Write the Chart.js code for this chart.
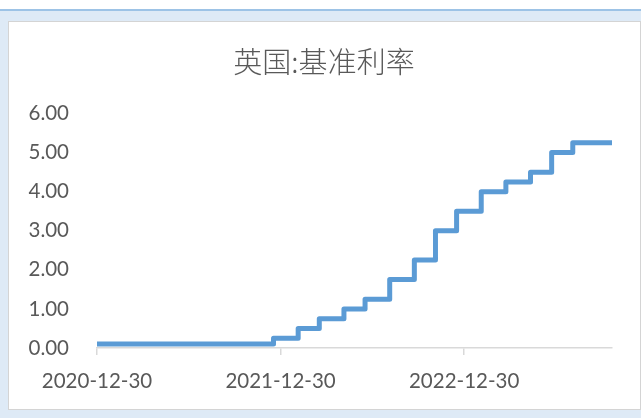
<!DOCTYPE html>
<html>
<head>
<meta charset="utf-8">
<script src="https://cdn.jsdelivr.net/npm/chart.js@4"></script>
<style>
  html, body { margin: 0; padding: 0; background: #ffffff; }
  #frame { position: absolute; left: 0; top: 0; width: 641px; height: 418px; overflow: hidden; }
  #band { position: absolute; left: 0; top: 9px; width: 641px; height: 409px;
          background: #deeaf6; border-top: 2px solid #9dc3e6; box-sizing: border-box; }
  #panel { position: absolute; left: 8px; top: 21px; width: 633px; height: 389px;
           background: #ffffff; border: 1px solid #d4d4d4; box-sizing: border-box; }
  #chart-rate { position: absolute; left: 0; top: 0; }
</style>
</head>
<body>
<div id="frame">
  <div id="band"></div>
  <div id="panel"></div>
  <canvas id="chart-rate" width="641" height="418"></canvas>
</div>
<script>
// Bank Rate changes (date the new rate took effect) and the rate after each change
const changeDates = [
    '2020-12-30', '2021-12-16', '2022-02-03', '2022-03-17', '2022-05-05',
    '2022-06-16', '2022-08-04', '2022-09-22', '2022-11-03', '2022-12-15',
    '2023-02-02', '2023-03-23', '2023-05-11', '2023-06-22', '2023-08-03',
    '2023-10-20',
];
const rates = [
    0.10, 0.25, 0.50, 0.75, 1.00,
    1.25, 1.75, 2.25, 3.00, 3.50,
    4.00, 4.25, 4.50, 5.00, 5.25,
    5.25,
];
const xTickLabels = ['2020-12-30', '2021-12-30', '2022-12-30'];
const yMin = 0;
const yMax = 6;
const chartTitle = '英国:基准利率';

const DAY = 86400000;
const start = Date.parse(changeDates[0]);
const dayOf = d => Math.round((Date.parse(d) - start) / DAY);

const points = changeDates.map((d, i) => ({ x: dayOf(d), y: rates[i] }));
const labelFont = { family: 'Lato', size: 20.5 };
const textColor = '#595959';

// Title centred on the white panel rather than on the chart box
const panelTitle = {
    id: 'panelTitle',
    afterDraw(chart) {
        const ctx = chart.ctx;
        ctx.save();
        ctx.font = '300 29px "Noto Sans CJK SC"';
        ctx.fillStyle = textColor;
        ctx.textAlign = 'center';
        ctx.textBaseline = 'middle';
        ctx.fillText(chartTitle, 324, 62);
        ctx.restore();
    },
};

new Chart(document.getElementById('chart-rate'), {
    type: 'line',
    data: {
        datasets: [{
            label: chartTitle,
            data: points,
            borderColor: '#5b9bd5',
            borderWidth: 5,
            borderCapStyle: 'round',
            borderJoinStyle: 'round',
            stepped: 'before',
            pointRadius: 0,
            fill: false,
        }],
    },
    plugins: [panelTitle],
    options: {
        responsive: false,
        animation: false,
        devicePixelRatio: 1,
        layout: { padding: { left: 0, right: 29, top: 113.5, bottom: 0 } },
        plugins: {
            legend: { display: false },
            tooltip: { enabled: false },
            title: { display: false },
        },
        scales: {
            x: {
                type: 'linear',
                min: 0,
                max: points[points.length - 1].x,
                afterBuildTicks: scale => {
                    scale.ticks = xTickLabels.map(d => ({ value: dayOf(d) }));
                },
                afterFit: scale => { scale.height = 70; },
                ticks: {
                    color: textColor,
                    font: labelFont,
                    autoSkip: false,
                    maxRotation: 0,
                    padding: 14,
                    callback: (v, i) => xTickLabels[i],
                },
                grid: {
                    display: true,
                    drawOnChartArea: false,
                    drawTicks: true,
                    tickLength: 7,
                    color: '#d9d9d9',
                    lineWidth: 1.5,
                },
                border: { display: true, color: '#d9d9d9', width: 1.5 },
            },
            y: {
                min: yMin,
                max: yMax,
                afterFit: scale => { scale.width = 97; },
                ticks: {
                    stepSize: 1,
                    color: textColor,
                    font: labelFont,
                    padding: 28,
                    callback: v => v.toFixed(2),
                },
                grid: { display: false, drawTicks: false },
                border: { display: false },
            },
        },
    },
});
</script>
</body>
</html>
